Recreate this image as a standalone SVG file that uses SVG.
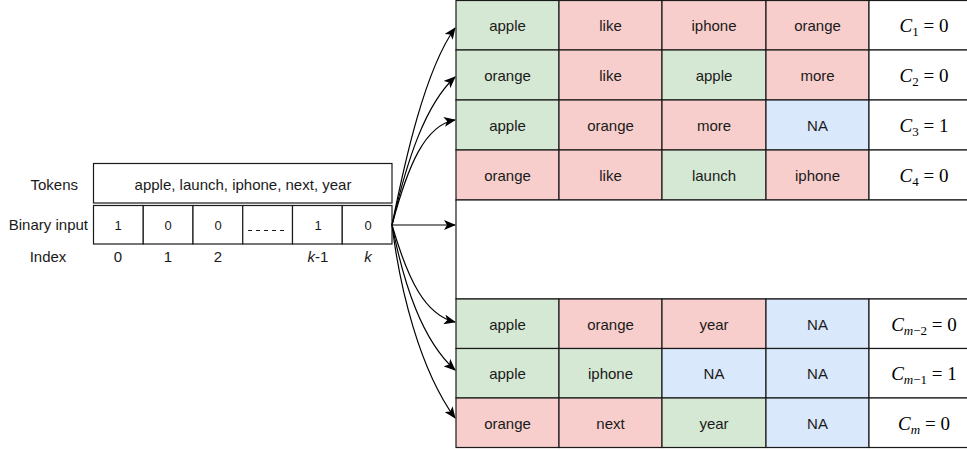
<svg xmlns="http://www.w3.org/2000/svg" width="967" height="450" viewBox="0 0 967 450">
<style>
.cell{stroke:#1a1a1a;stroke-width:1.2}
.g{fill:#d5e8d4}
.r{fill:#f8cecc}
.b{fill:#dae8fc}
.w{fill:#ffffff}
.t{font-family:"Liberation Sans",Arial,Helvetica,sans-serif;font-size:15px;fill:#1a1a1a;text-anchor:middle}
.s{font-size:13px}
.lbl{font-family:"Liberation Sans",Arial,Helvetica,sans-serif;font-size:15px;fill:#1a1a1a}
.m{font-family:"Liberation Serif","Times New Roman",serif;font-size:19px;fill:#000;text-anchor:middle}
.mi{font-style:italic}
.sub{font-size:13px}
.edge{fill:none;stroke:#000;stroke-width:1.2}
</style>
<defs>
<marker id="ah" viewBox="0 0 12 10" refX="11" refY="5" markerWidth="12" markerHeight="10" markerUnits="userSpaceOnUse" orient="auto">
<path d="M0,0 L12,5 L0,10 L3,5 z" fill="#000"/>
</marker>
</defs>

<g id="labels">
<text class="lbl" x="78" y="190" text-anchor="end">Tokens</text>
<text class="lbl" x="88" y="230" text-anchor="end">Binary input</text>
<text class="lbl" x="48" y="262" text-anchor="middle">Index</text>
</g>

<g id="tokens">
<rect class="cell w" x="93.5" y="163.5" width="298.5" height="39.5"/>
<text class="t" x="243" y="190">apple, launch, iphone, next, year</text>
</g>

<g id="binary-input">
<rect class="cell w" x="93.5" y="205.5" width="49.75" height="38.5"/>
<rect class="cell w" x="143.25" y="205.5" width="49.75" height="38.5"/>
<rect class="cell w" x="193" y="205.5" width="49.75" height="38.5"/>
<rect class="cell w" x="242.75" y="205.5" width="49.75" height="38.5"/>
<rect class="cell w" x="292.5" y="205.5" width="49.75" height="38.5"/>
<rect class="cell w" x="342.25" y="205.5" width="49.75" height="38.5"/>
<text class="t s" x="118" y="230">1</text>
<text class="t s" x="168" y="230">0</text>
<text class="t s" x="218" y="230">0</text>
<line x1="248" y1="230.5" x2="284" y2="230.5" stroke="#1a1a1a" stroke-width="1.2" stroke-dasharray="4,4"/>
<text class="t s" x="318" y="230">1</text>
<text class="t s" x="368" y="230">0</text>
</g>

<g id="index">
<text class="t" x="118" y="262">0</text>
<text class="t" x="168" y="262">1</text>
<text class="t" x="218" y="262">2</text>
<text class="t" x="318" y="262"><tspan font-style="italic">k</tspan>-1</text>
<text class="t" x="368" y="262" font-style="italic">k</text>
</g>

<g id="row-1">
<rect class="cell g" x="456" y="0.5" width="103" height="49.5"/>
<rect class="cell r" x="559" y="0.5" width="103" height="49.5"/>
<rect class="cell r" x="662" y="0.5" width="104" height="49.5"/>
<rect class="cell r" x="766" y="0.5" width="103" height="49.5"/>
<rect class="cell w" x="869" y="0.5" width="106" height="49.5"/>
<text class="t" x="507.5" y="31">apple</text>
<text class="t" x="610.5" y="31">like</text>
<text class="t" x="714" y="31">iphone</text>
<text class="t" x="817.5" y="31">orange</text>
<text class="m" x="924" y="32"><tspan class="mi">C</tspan><tspan class="sub" dy="4">1</tspan><tspan dy="-4"> = 0</tspan></text>
</g>

<g id="row-2">
<rect class="cell g" x="456" y="50" width="103" height="50"/>
<rect class="cell r" x="559" y="50" width="103" height="50"/>
<rect class="cell g" x="662" y="50" width="104" height="50"/>
<rect class="cell r" x="766" y="50" width="103" height="50"/>
<rect class="cell w" x="869" y="50" width="106" height="50"/>
<text class="t" x="507.5" y="81">orange</text>
<text class="t" x="610.5" y="81">like</text>
<text class="t" x="714" y="81">apple</text>
<text class="t" x="817.5" y="81">more</text>
<text class="m" x="924" y="82"><tspan class="mi">C</tspan><tspan class="sub" dy="4">2</tspan><tspan dy="-4"> = 0</tspan></text>
</g>

<g id="row-3">
<rect class="cell g" x="456" y="100" width="103" height="50"/>
<rect class="cell r" x="559" y="100" width="103" height="50"/>
<rect class="cell r" x="662" y="100" width="104" height="50"/>
<rect class="cell b" x="766" y="100" width="103" height="50"/>
<rect class="cell w" x="869" y="100" width="106" height="50"/>
<text class="t" x="507.5" y="131">apple</text>
<text class="t" x="610.5" y="131">orange</text>
<text class="t" x="714" y="131">more</text>
<text class="t" x="817.5" y="131">NA</text>
<text class="m" x="924" y="132"><tspan class="mi">C</tspan><tspan class="sub" dy="4">3</tspan><tspan dy="-4"> = 1</tspan></text>
</g>

<g id="row-4">
<rect class="cell r" x="456" y="150" width="103" height="50"/>
<rect class="cell r" x="559" y="150" width="103" height="50"/>
<rect class="cell g" x="662" y="150" width="104" height="50"/>
<rect class="cell r" x="766" y="150" width="103" height="50"/>
<rect class="cell w" x="869" y="150" width="106" height="50"/>
<text class="t" x="507.5" y="181">orange</text>
<text class="t" x="610.5" y="181">like</text>
<text class="t" x="714" y="181">launch</text>
<text class="t" x="817.5" y="181">iphone</text>
<text class="m" x="924" y="182"><tspan class="mi">C</tspan><tspan class="sub" dy="4">4</tspan><tspan dy="-4"> = 0</tspan></text>
</g>

<g id="gap-box">
<rect class="cell w" x="456" y="200" width="519" height="99"/>
</g>

<g id="row-m-2">
<rect class="cell g" x="456" y="299" width="103" height="49.5"/>
<rect class="cell r" x="559" y="299" width="103" height="49.5"/>
<rect class="cell r" x="662" y="299" width="104" height="49.5"/>
<rect class="cell b" x="766" y="299" width="103" height="49.5"/>
<rect class="cell w" x="869" y="299" width="106" height="49.5"/>
<text class="t" x="507.5" y="330">apple</text>
<text class="t" x="610.5" y="330">orange</text>
<text class="t" x="714" y="330">year</text>
<text class="t" x="817.5" y="330">NA</text>
<text class="m" x="924" y="331"><tspan class="mi">C</tspan><tspan class="sub" dy="4"><tspan class="mi">m</tspan>−2</tspan><tspan dy="-4"> = 0</tspan></text>
</g>

<g id="row-m-1">
<rect class="cell g" x="456" y="348.5" width="103" height="49.5"/>
<rect class="cell g" x="559" y="348.5" width="103" height="49.5"/>
<rect class="cell b" x="662" y="348.5" width="104" height="49.5"/>
<rect class="cell b" x="766" y="348.5" width="103" height="49.5"/>
<rect class="cell w" x="869" y="348.5" width="106" height="49.5"/>
<text class="t" x="507.5" y="379">apple</text>
<text class="t" x="610.5" y="379">iphone</text>
<text class="t" x="714" y="379">NA</text>
<text class="t" x="817.5" y="379">NA</text>
<text class="m" x="924" y="380"><tspan class="mi">C</tspan><tspan class="sub" dy="4"><tspan class="mi">m</tspan>−1</tspan><tspan dy="-4"> = 1</tspan></text>
</g>

<g id="row-m">
<rect class="cell r" x="456" y="398" width="103" height="49.5"/>
<rect class="cell r" x="559" y="398" width="103" height="49.5"/>
<rect class="cell g" x="662" y="398" width="104" height="49.5"/>
<rect class="cell b" x="766" y="398" width="103" height="49.5"/>
<rect class="cell w" x="869" y="398" width="106" height="49.5"/>
<text class="t" x="507.5" y="429">orange</text>
<text class="t" x="610.5" y="429">next</text>
<text class="t" x="714" y="429">year</text>
<text class="t" x="817.5" y="429">NA</text>
<text class="m" x="924" y="430"><tspan class="mi">C</tspan><tspan class="sub" dy="4"><tspan class="mi">m</tspan></tspan><tspan dy="-4"> = 0</tspan></text>
</g>

<g id="connectors">
<path class="edge" marker-end="url(#ah)" d="M392,225 C405,160 425,70 455,28"/>
<path class="edge" marker-end="url(#ah)" d="M392,225 C407,160 425,105 455,77"/>
<path class="edge" marker-end="url(#ah)" d="M392,225 C408,165 425,125 455,120"/>
<path class="edge" marker-end="url(#ah)" d="M392,225 L455,225"/>
<path class="edge" marker-end="url(#ah)" d="M392,225 C408,280 425,315 455,322"/>
<path class="edge" marker-end="url(#ah)" d="M392,225 C404,285 422,340 455,370"/>
<path class="edge" marker-end="url(#ah)" d="M392,225 C400,290 420,370 455,418"/>
</g>
</svg>
